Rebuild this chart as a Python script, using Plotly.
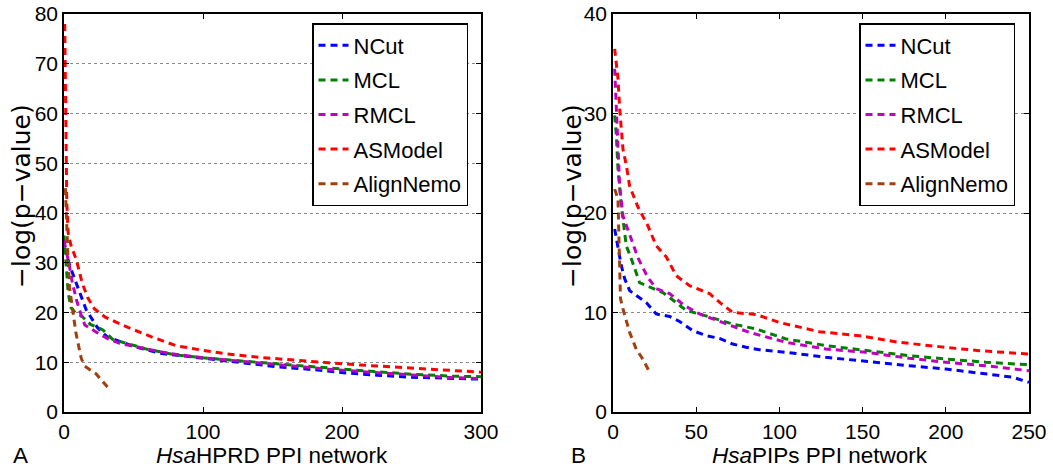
import plotly.graph_objects as go

W, H = 1053, 468

methods = ["NCut", "MCL", "RMCL", "ASModel", "AlignNemo"]
colors = ["#0000FF", "#008000", "#BF00BF", "#FF0000", "#A0400F"]

# Panel A: HsaHPRD PPI network
a_ncut_x = [0, 2, 4, 7, 10, 13, 16, 19, 24, 31, 39, 50, 69, 90, 105, 130, 153, 180, 201, 225, 249, 275, 300]
a_ncut_y = [33, 31.5, 29.5, 27.2, 25, 22.5, 20.5, 19.2, 17, 15.1, 14.3, 13.2, 11.8, 11.1, 10.6, 9.9, 9.1, 8.5, 7.9, 7.4, 7.0, 6.8, 6.6]
a_mcl_x = [0, 1, 2, 3, 5, 8, 13, 19, 28, 35, 45, 60, 80, 100, 130, 160, 190, 220, 250, 280, 300]
a_mcl_y = [35.5, 31, 28, 24, 21, 20, 19.2, 17.6, 16.5, 14.6, 13.8, 12.6, 11.5, 10.9, 10.2, 9.5, 8.8, 8.2, 7.6, 7.2, 7.1]
a_rmcl_x = [0, 2, 4, 6, 9, 12, 15, 23, 31, 40, 55, 75, 100, 130, 160, 190, 220, 250, 280, 300]
a_rmcl_y = [34.5, 32, 29.2, 26, 22.5, 19.8, 17.5, 16.1, 14.8, 13.8, 12.9, 11.8, 10.9, 10.1, 9.3, 8.6, 8.0, 7.4, 6.9, 6.7]
a_asm_x = [0.5, 1, 1.5, 2, 3, 5, 9, 13, 17, 22, 30, 46, 63, 81, 100, 117, 140, 165, 190, 213, 240, 261, 280, 300]
a_asm_y = [78, 65, 50, 42, 36, 33.5, 30.5, 26, 23, 20.7, 19, 17, 15.1, 13.3, 12.4, 11.7, 11.0, 10.4, 9.9, 9.45, 9.0, 8.64, 8.3, 8.0]
a_an_x = [1, 1.5, 2, 3, 4, 6, 8.5, 10.5, 12.5, 15, 19, 23, 27, 32]
a_an_y = [45, 40, 36, 30, 25, 21, 16, 13.3, 10.7, 9.2, 8.5, 7.7, 6.4, 4.8]

# Panel B: HsaPIPs PPI network
b_ncut_x = [1, 3, 5, 7, 10, 14, 20, 26, 34, 40, 48, 56, 64, 72, 80, 88, 104, 128, 152, 178, 200, 224, 240, 250]
b_ncut_y = [18.4, 16.7, 14.7, 13.4, 12.2, 11.7, 11.0, 9.85, 9.6, 9.1, 8.17, 7.67, 7.4, 6.83, 6.5, 6.26, 6.0, 5.5, 5.06, 4.65, 4.32, 3.82, 3.5, 2.98]
b_mcl_x = [1, 2, 3, 5, 8, 11, 16, 24, 30, 38, 44, 52, 62, 72, 86, 104, 128, 152, 178, 200, 224, 250]
b_mcl_y = [29.8, 27.8, 24.4, 20.7, 16.7, 15.4, 13.0, 12.4, 12.0, 11.0, 10.2, 9.85, 9.35, 8.84, 8.34, 7.34, 6.67, 6.16, 5.66, 5.33, 5.0, 4.75]
b_rmcl_x = [1, 2, 3, 4, 6, 11, 15, 21, 26, 34, 43, 52, 60, 76, 82, 104, 128, 152, 178, 200, 224, 250]
b_rmcl_y = [34.5, 30.5, 26.8, 22.7, 19.7, 17.4, 15.5, 13.5, 12.4, 11.9, 10.7, 9.85, 9.35, 8.34, 8.0, 7.0, 6.33, 6.0, 5.4, 5.0, 4.65, 4.15]
b_asm_x = [1, 3, 4, 6, 8, 10, 15, 21, 26, 32, 38, 46, 58, 65, 72, 86, 100, 124, 148, 172, 196, 220, 250]
b_asm_y = [36.5, 33.5, 30.5, 26.4, 24.8, 22.7, 20.6, 18.7, 16.7, 15.6, 13.7, 12.7, 11.9, 10.9, 10.0, 9.8, 9.0, 8.07, 7.67, 7.0, 6.57, 6.16, 5.83]
b_an_x = [1, 3, 3.5, 4, 4.5, 6, 10, 14, 18, 22]
b_an_y = [22.4, 21.4, 18, 14, 11.4, 10.35, 8.0, 6.3, 5.3, 4.0]

a_xticks = [0, 100, 200, 300]
a_yticks = [0, 10, 20, 30, 40, 50, 60, 70, 80]
b_xticks = [0, 50, 100, 150, 200, 250]
b_yticks = [0, 10, 20, 30, 40]

panel_a = [(a_ncut_x, a_ncut_y), (a_mcl_x, a_mcl_y), (a_rmcl_x, a_rmcl_y), (a_asm_x, a_asm_y), (a_an_x, a_an_y)]
panel_b = [(b_ncut_x, b_ncut_y), (b_mcl_x, b_mcl_y), (b_rmcl_x, b_rmcl_y), (b_asm_x, b_asm_y), (b_an_x, b_an_y)]

FONT = "Arial, Liberation Sans, Helvetica, sans-serif"
DASH = "7px,5px"

fig = go.Figure()
for i, (xs, ys) in enumerate(panel_a):
    fig.add_trace(go.Scatter(x=xs, y=ys, mode="lines", name=methods[i],
                             line=dict(color=colors[i], width=3, dash=DASH),
                             xaxis="x", yaxis="y", legend="legend",
                             legendgroup="a" + str(i)))
for i, (xs, ys) in enumerate(panel_b):
    fig.add_trace(go.Scatter(x=xs, y=ys, mode="lines", name=methods[i],
                             line=dict(color=colors[i], width=3, dash=DASH),
                             xaxis="x2", yaxis="y2", legend="legend2",
                             legendgroup="b" + str(i)))

top, bottom = 14, 412
ml, mr, mt, mb = 0, 0, top, H - bottom

def px_x(p):
    return p / W

def px_y(p):
    return (bottom - p) / (bottom - top)

axis_common = dict(showline=True, linecolor="black", linewidth=1.5, mirror="ticks",
                   ticks="inside", ticklen=5, tickcolor="black", tickwidth=1,
                   zeroline=False, automargin=False,
                   tickfont=dict(family=FONT, size=21, color="black"))

grid = dict(showgrid=True, gridcolor="#8a8a8a", gridwidth=1, griddash="dot")

fig.update_layout(
    width=W, height=H,
    margin=dict(l=ml, r=mr, t=mt, b=mb),
    paper_bgcolor="white", plot_bgcolor="white",
    font=dict(family=FONT, color="black"),
    xaxis=dict(domain=[px_x(64), px_x(481)], range=[0, 300], tickvals=a_xticks,
               showgrid=False, anchor="y", **axis_common),
    yaxis=dict(range=[0, 80], tickvals=a_yticks, anchor="x", **grid, **axis_common),
    xaxis2=dict(domain=[px_x(613), px_x(1029)], range=[0, 250], tickvals=b_xticks,
                showgrid=False, anchor="y2", **axis_common),
    yaxis2=dict(range=[0, 40], tickvals=b_yticks, anchor="x2", **grid, **axis_common),
    legend=dict(x=px_x(312), y=px_y(23), xanchor="left", yanchor="top",
                bgcolor="white", bordercolor="black", borderwidth=1.5,
                font=dict(family=FONT, size=22, color="black"),
                tracegroupgap=3, traceorder="grouped"),
    legend2=dict(x=px_x(859), y=px_y(23), xanchor="left", yanchor="top",
                 bgcolor="white", bordercolor="black", borderwidth=1.5,
                 font=dict(family=FONT, size=22, color="black"),
                 tracegroupgap=3, traceorder="grouped"),
    showlegend=True,
)

ann_font = dict(family=FONT, size=22.5, color="black")
ylab_font = dict(family="DejaVu Sans, sans-serif", size=25, color="black")
annotations = [
    dict(text="<i>Hsa</i>HPRD PPI network", x=px_x(272), y=px_y(455), xref="paper", yref="paper",
         showarrow=False, font=ann_font, xanchor="center", yanchor="middle"),
    dict(text="<i>Hsa</i>PIPs PPI network", x=px_x(820), y=px_y(455), xref="paper", yref="paper",
         showarrow=False, font=ann_font, xanchor="center", yanchor="middle"),
    dict(text="\u2212log(p\u2212value)", x=px_x(21), y=px_y(196), xref="paper", yref="paper",
         showarrow=False, font=ylab_font, textangle=-90, xanchor="center", yanchor="middle"),
    dict(text="\u2212log(p\u2212value)", x=px_x(572), y=px_y(196), xref="paper", yref="paper",
         showarrow=False, font=ylab_font, textangle=-90, xanchor="center", yanchor="middle"),
    dict(text="A", x=px_x(20), y=px_y(455), xref="paper", yref="paper",
         showarrow=False, font=ann_font, xanchor="center", yanchor="middle"),
    dict(text="B", x=px_x(578), y=px_y(455), xref="paper", yref="paper",
         showarrow=False, font=ann_font, xanchor="center", yanchor="middle"),
]
fig.update_layout(annotations=annotations)

fig.write_html("out.html", config={"displayModeBar": False},
               post_script="document.body.style.margin='0';document.body.style.overflow='hidden';")
